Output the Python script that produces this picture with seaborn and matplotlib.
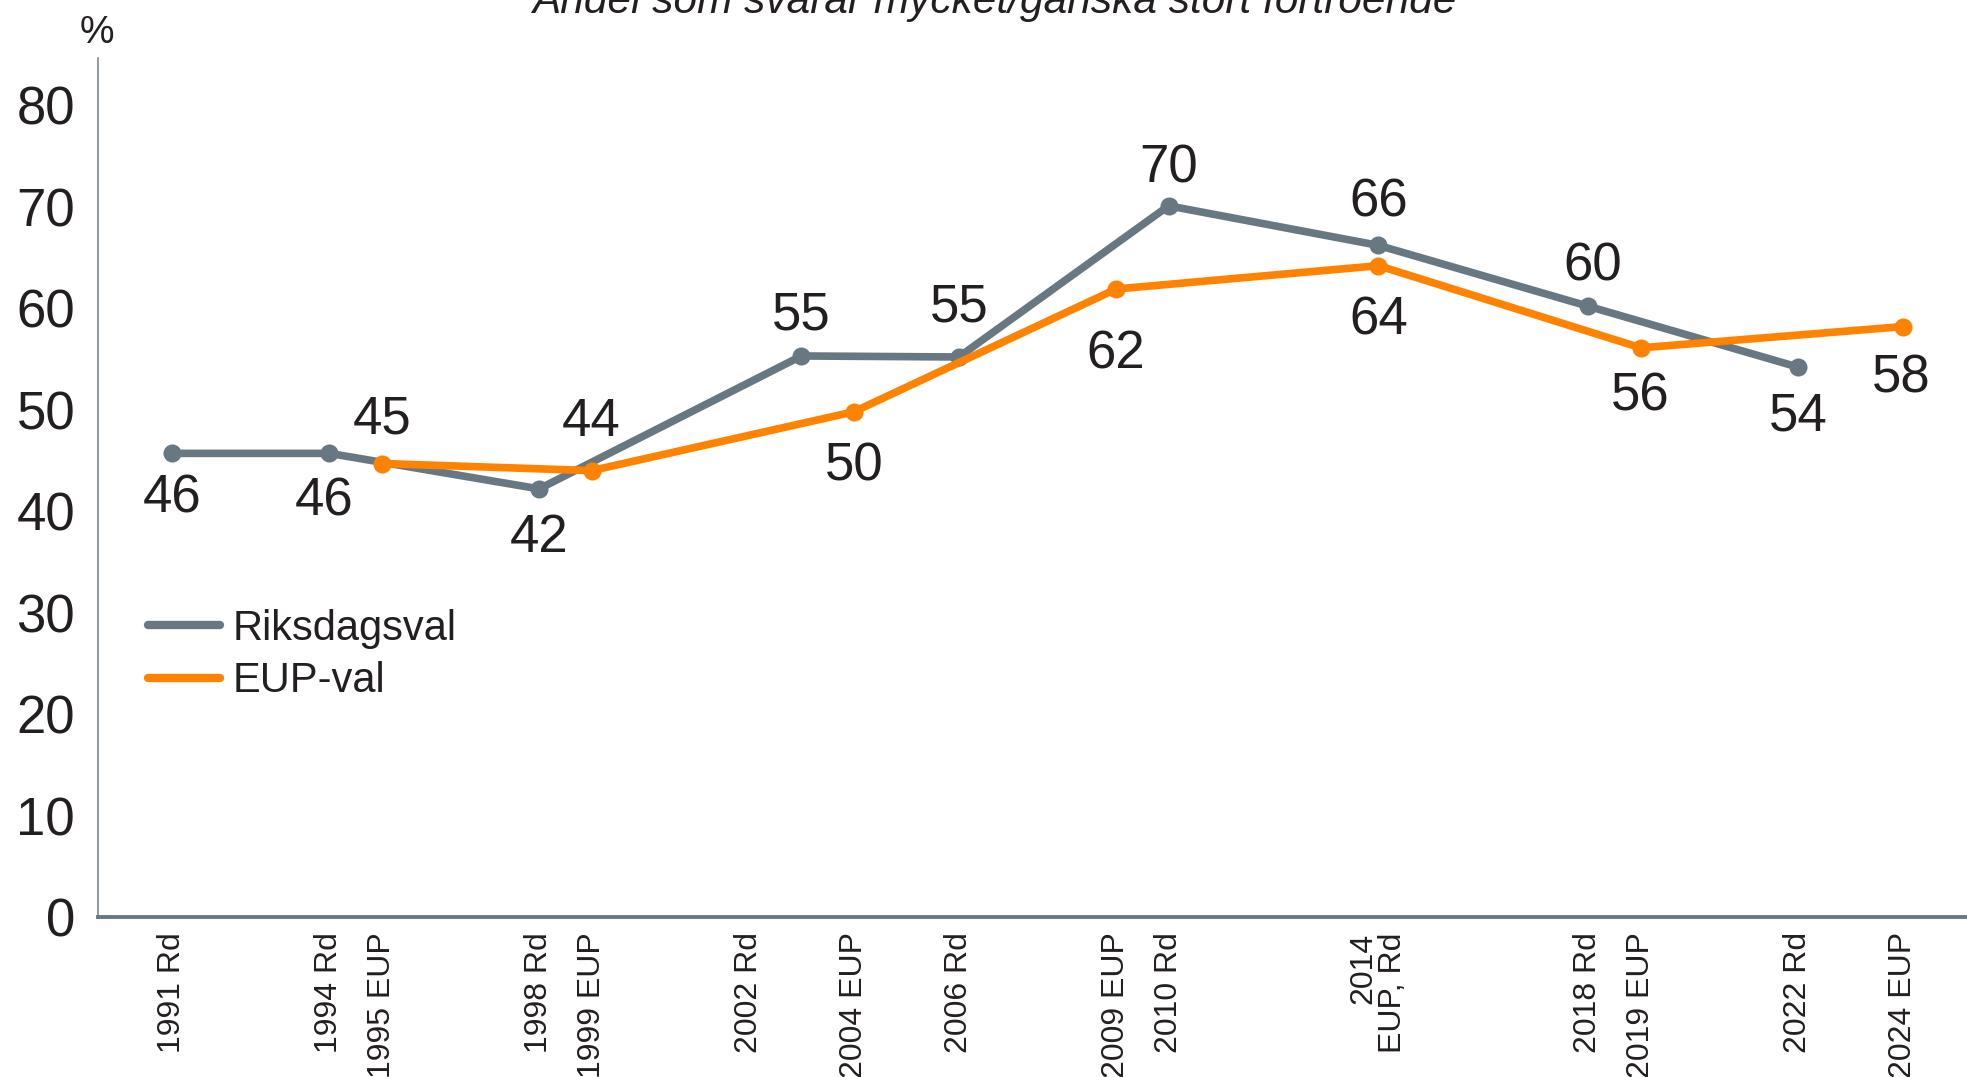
import matplotlib
matplotlib.use("Agg")
import matplotlib.pyplot as plt
from matplotlib.lines import Line2D
import pandas as pd
import seaborn as sns

# data

rd_years = [1991, 1994, 1998, 2003, 2006, 2010, 2014, 2018, 2022]
rd_values = [45.7, 45.7, 42.2, 55.3, 55.2, 70.1, 66.2, 60.2, 54.2]
rd_labels = ["46", "46", "42", "55", "55", "70", "66", "60", "54"]

eup_years = [1995, 1999, 2004, 2009, 2014, 2019, 2024]
eup_values = [44.7, 44.0, 49.8, 61.9, 64.2, 56.1, 58.2]
eup_labels = ["45", "44", "50", "62", "64", "56", "58"]

tick_years = [1991, 1994, 1995, 1998, 1999, 2002, 2004, 2006, 2009, 2010,
              2014, 2018, 2019, 2022, 2024]
tick_labels = ["1991 Rd", "1994 Rd", "1995 EUP", "1998 Rd", "1999 EUP",
               "2002 Rd", "2004 EUP", "2006 Rd", "2009 EUP", "2010 Rd",
               "2014\nEUP, Rd", "2018 Rd", "2019 EUP", "2022 Rd", "2024 EUP"]

series_names = ["Riksdagsval", "EUP-val"]

# label placement (pixels from the point)
rd_offsets = [(0, -45), (-5, -48), (0, -49), (0, 40), (0, 49), (0, 37), (0, 43), (4, 40), (0, -49)]
eup_offsets = [(0, 44), (0, 49), (0, -55), (0, -65), (0, -55), (0, -49), (-2, -52)]

gray = "#687882"
orange = "#ff8300"
txt = "#231f20"

df = pd.concat([
    pd.DataFrame({"year": rd_years, "value": rd_values, "serie": series_names[0]}),
    pd.DataFrame({"year": eup_years, "value": eup_values, "serie": series_names[1]}),
])

sns.set_theme(style="white")
plt.rcParams["font.family"] = ["Liberation Sans", "DejaVu Sans"]

W, H = 1967, 1077
fig = plt.figure(figsize=(W / 100, H / 100), dpi=100)
ax = fig.add_axes([98 / W, 1 - 917 / H, (W - 98) / W, (917 - 57.7) / H])

sns.lineplot(data=df, x="year", y="value", hue="serie", sort=False,
             palette={series_names[0]: gray, series_names[1]: orange},
             marker="o", markersize=13, markeredgewidth=0, linewidth=5.5,
             legend=False, ax=ax)

for yrs, vals, labs, offs in [(rd_years, rd_values, rd_labels, rd_offsets),
                              (eup_years, eup_values, eup_labels, eup_offsets)]:
    for x, y, t, (dx, dy) in zip(yrs, vals, labs, offs):
        ax.annotate(t, (x, y), xytext=(dx, dy), textcoords="offset pixels",
                    ha="center", va="center", fontsize=38, color=txt)

ax.set_xlim(1989.59, 2025.22)
ax.set_ylim(0, 84.7)
ax.set_yticks(range(0, 81, 10))
ax.set_xticks(tick_years)
ax.set_xticklabels(tick_labels, rotation=90, fontsize=23, color=txt,
                   linespacing=1.0, ha="center", va="top", multialignment="right")
ax.tick_params(axis="y", length=0, pad=16.5, labelsize=38, labelcolor=txt)
ax.tick_params(axis="x", length=0, pad=11)
ax.set_xlabel("")
ax.set_ylabel("")
ax.grid(False)

for s in ["top", "right"]:
    ax.spines[s].set_visible(False)
ax.spines["left"].set_color("#7a8a94")
ax.spines["left"].set_linewidth(1.2)
ax.spines["bottom"].set_color(gray)
ax.spines["bottom"].set_linewidth(2.8)

handles = [Line2D([], [], color=gray, lw=6), Line2D([], [], color=orange, lw=6)]
fig.legend(handles, series_names, loc="center left",
           bbox_to_anchor=(148 / W, 1 - 655 / H), frameon=False, fontsize=30,
           handlelength=1.73, handletextpad=0.29, labelspacing=0.3,
           borderpad=0, borderaxespad=0, labelcolor=txt)

fig.text(994 / W, 1 - 13 / H, "Andel som svarar mycket/ganska stort förtroende",
         ha="center", va="baseline", fontsize=30.5, fontstyle="italic", color=txt)
fig.text(97 / W, 1 - 43 / H, "%", ha="center", va="baseline", fontsize=28, color=txt)

fig.savefig("out.png", dpi=100)
